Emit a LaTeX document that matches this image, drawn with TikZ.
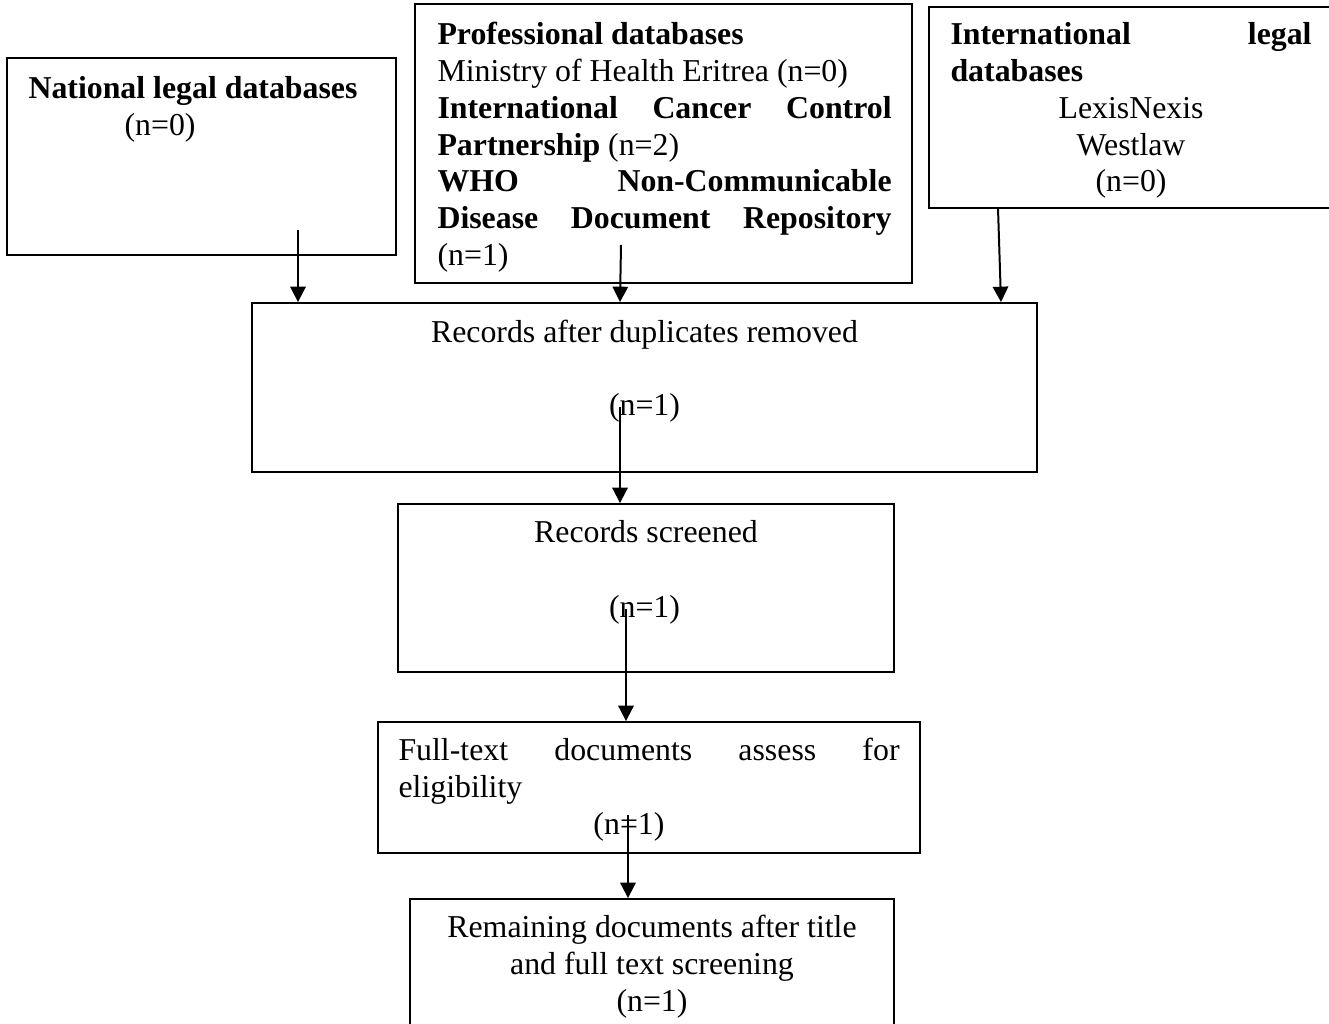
\documentclass[tikz,border=0pt]{standalone}
\usepackage{fontspec}
\setmainfont{Liberation Serif}
\usetikzlibrary{arrows.meta,fit}
\newcommand\jline[1]{\leavevmode\hbox to\linewidth{#1}}
\newcommand\natsp{\spaceskip=0pt\relax\xspaceskip=0pt\relax}
\begin{document}
\begin{tikzpicture}[x=0.377pt,y=-0.377pt,
  box/.style={draw,line width=0.7pt,inner sep=0pt},
  txt/.style={inner sep=0pt,font=\fontsize{12}{13.85}\selectfont},
  arr/.style={line width=0.75pt,-{Triangle[width=5.8pt,length=5.8pt]}}]
\useasboundingbox (0,0) rectangle (1329,1024);
\clip (0,0) rectangle (1329,1024);
% boxes
\node[box,fit={(7,58)(396,255)}] (nat) {};
\node[box,fit={(415,4)(912,283)}] (prof) {};
\node[box,fit={(929,7)(1345,208)}] (intl) {};
\node[box,fit={(252,303)(1037,472)}] (recs) {};
\node[box,fit={(398,504)(894,672)}] (scr) {};
\node[box,fit={(378,722)(920,853)}] (full) {};
\node[box,fit={(410,899)(894,1040)}] (rem) {};
% texts
\node[txt,anchor=base west,text width=130pt] (natt) at (28,99)
  {\natsp\raggedright\textbf{National legal databases}\\\hspace*{36.2pt}(n=0)};
\node[txt,anchor=base west,text width=171.2pt] (proft) at (437,45)
  {\natsp\raggedright\textbf{Professional databases}\\
   Ministry of Health Eritrea (n=0)\\
   \jline{\textbf{International}\hfill\textbf{Cancer}\hfill\textbf{Control}}\\
   \textbf{Partnership} (n=2)\\
   \jline{\textbf{WHO}\hfill\textbf{Non-Communicable}}\\
   \jline{\textbf{Disease}\hfill\textbf{Document}\hfill\textbf{Repository}}\\
   (n=1)};
\node[txt,anchor=base west,text width=136.1pt] (intlt) at (950,45)
  {\natsp\raggedright\jline{\textbf{International}\hfill\textbf{legal}}\\
   \textbf{databases}\\
   \jline{\hfil LexisNexis\hfil}\\
   \jline{\hfil Westlaw\hfil}\\
   \jline{\hfil (n=0)\hfil}};
\node[txt,anchor=base] (recst1) at (644.5,343) {Records after duplicates removed};
\node[txt,anchor=base] (recst2) at (644.5,416) {(n=1)};
\node[txt,anchor=base] (scrt1) at (646,543) {Records screened};
\node[txt,anchor=base] (scrt2) at (644.5,618) {(n=1)};
\node[txt,anchor=base west,text width=188.9pt] (fullt) at (398,761)
  {\natsp\raggedright\jline{Full-text\hfill documents\hfill assess\hfill for}\\
   eligibility\\
   \jline{\hspace*{73.5pt}(n=1)\hfill}};
\node[txt,anchor=base,text width=180pt] (remt) at (652,938)
  {\natsp\centering Remaining documents after title\\and full text screening\\(n=1)\par};
% connectors
\coordinate (s1) at (298,230);
\coordinate (s2) at (621,245);
\coordinate (e2) at (620,303);
\coordinate (s3) at (998,208);
\coordinate (e3) at (1001,303);
\coordinate (s4) at (620,407);
\coordinate (s5) at (626,609);
\coordinate (s6) at (628,815);
\draw[arr] (s1) -- (s1 |- recs.north);
\draw[arr] (s2) -- (e2 |- recs.north);
\draw[arr] (s3) -- (e3 |- recs.north);
\draw[arr] (s4) -- (s4 |- scr.north);
\draw[arr] (s5) -- (s5 |- full.north);
\draw[arr] (s6) -- (s6 |- rem.north);
\end{tikzpicture}
\end{document}
